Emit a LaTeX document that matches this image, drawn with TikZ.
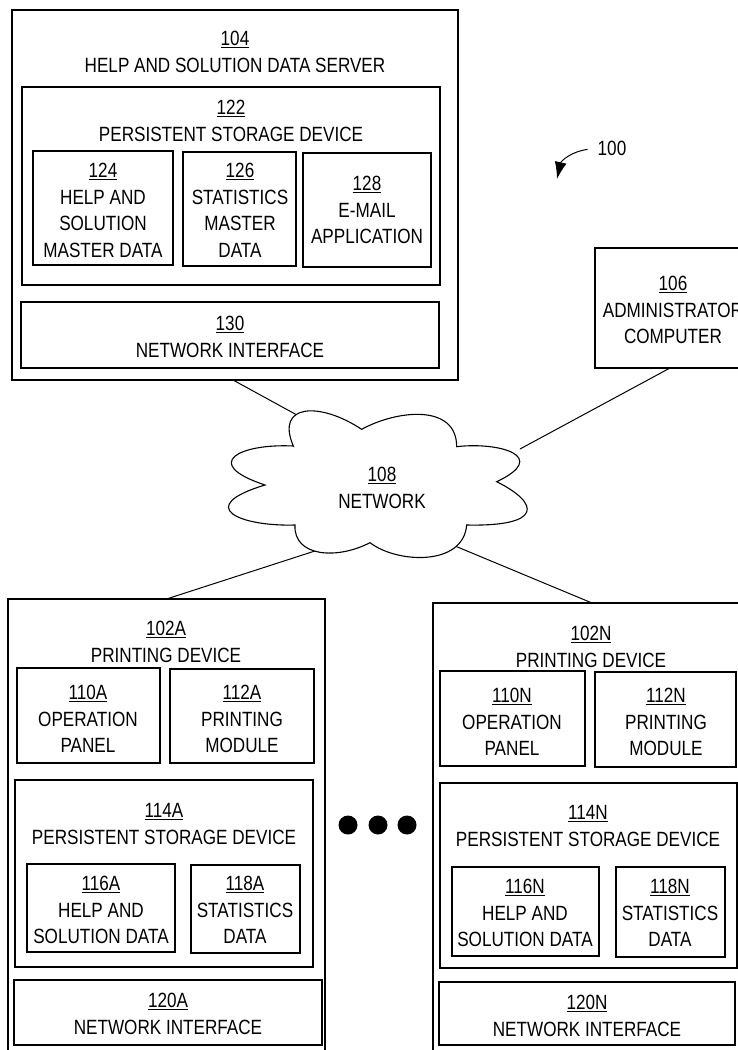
\documentclass[tikz,border=0pt]{standalone}
\usepackage{fontspec}
\setmainfont{Liberation Sans}[FakeStretch=0.83]
\usetikzlibrary{calc,arrows.meta}
\tikzset{
  boxst/.style={draw, line width=1.1bp, anchor=north west, inner sep=0pt, outer sep=0pt},
  lbl/.style={anchor=base, inner sep=0pt, font=\fontsize{20.7}{25}\selectfont},
  link/.style={line width=1bp},
  cloudst/.style={draw, line width=1.1bp, fill=white},
  dotst/.style={circle, fill, inner sep=0pt, minimum size=19bp},
}
\newcommand\mybox[5]{\node[boxst, minimum width={(#4-#2)*1bp}, minimum height={(#5-#3)*1bp}] (#1) at (#2,#3) {};}
\newcommand\mytext[4]{\foreach \myline [count=\i from 0] in {#4} {\node[lbl] (#1-\i) at ({#2},{#3+7.5+\i*26.5}) {\myline};}}
\begin{document}
\begin{tikzpicture}[x=1bp,y=-1bp]
\useasboundingbox (0,0) rectangle (738,1050);
\clip (0,0) rectangle (738,1050);
% boxes
\mybox{b104}{12}{10}{458}{380}
\mybox{b122}{22}{87}{440}{285}
\mybox{b124}{33}{151}{173}{265}
\mybox{b126}{183}{152}{296}{266}
\mybox{b128}{303}{153}{431}{267}
\mybox{b130}{21}{302}{439}{368}
\mybox{b106}{595}{248}{770}{368}
\mybox{b102A}{8}{599}{325}{1080}
\mybox{b110A}{17}{668}{160}{763}
\mybox{b112A}{170}{669}{314}{763}
\mybox{b114A}{15}{780}{313}{967}
\mybox{b116A}{27}{864}{175}{952}
\mybox{b118A}{191}{865}{300}{953}
\mybox{b120A}{14}{980}{322}{1045}
\mybox{b102N}{433}{603}{770}{1080}
\mybox{b110N}{440}{671}{585}{766}
\mybox{b112N}{595}{672}{736}{767}
\mybox{b114N}{440}{783}{737}{968}
\mybox{b116N}{452}{867}{599}{956}
\mybox{b118N}{616}{867}{725}{957}
\mybox{b120N}{439}{982}{735}{1045}
% cloud anchor coordinates
\begin{scope}[shift={(180,370)}, scale=0.33333]
  \coordinate (cl104) at (360,140);
  \coordinate (cl106) at (1020,237);
  \coordinate (cl102A) at (414,540);
  \coordinate (cl102N) at (818,525);
\end{scope}
% connectors
\draw[link] ($(b104.south west)!0.4955!(b104.south east)$) -- (cl104);
\draw[link] ($(b106.south west)!0.4286!(b106.south east)$) -- (cl106);
\draw[link] (b102A.north) -- (cl102A);
\draw[link] ($(b102N.north west)!0.4718!(b102N.north east)$) -- (cl102N);
% cloud
\begin{scope}[shift={(180,370)}, scale=0.33333]
\draw[cloudst] (340,228) .. controls (285,100) and (420,95) .. (545,178)
  .. controls (650,120) and (830,100) .. (830,230)
  .. controls (960,215) and (1110,260) .. (950,335)
  .. controls (1080,400) and (1090,470) .. (860,465)
  .. controls (850,590) and (650,580) .. (570,518)
  .. controls (470,570) and (340,560) .. (345,465)
  .. controls (180,470) and (40,410) .. (255,345)
  .. controls (60,280) and (180,220) .. cycle;
\end{scope}
% texts
\mytext{t104}{235}{38}{\underline{104},HELP AND SOLUTION DATA SERVER}
\mytext{t122}{231}{107}{\underline{122},PERSISTENT STORAGE DEVICE}
\mytext{t124}{103}{170}{\underline{124},HELP AND,SOLUTION,MASTER DATA}
\mytext{t126}{240}{170}{\underline{126},STATISTICS,MASTER,DATA}
\mytext{t128}{367}{183}{\underline{128},E-MAIL,APPLICATION}
\mytext{t130}{230}{323}{\underline{130},NETWORK INTERFACE}
\mytext{t106}{673}{283}{\underline{106},ADMINISTRATOR,COMPUTER}
\mytext{t108}{382}{474}{\underline{108},NETWORK}
\mytext{t102A}{166}{628}{\underline{102A},PRINTING DEVICE}
\mytext{t110A}{88}{692}{\underline{110A},OPERATION,PANEL}
\mytext{t112A}{242}{692}{\underline{112A},PRINTING,MODULE}
\mytext{t114A}{164}{810}{\underline{114A},PERSISTENT STORAGE DEVICE}
\mytext{t116A}{101}{883}{\underline{116A},HELP AND,SOLUTION DATA}
\mytext{t118A}{245}{883}{\underline{118A},STATISTICS,DATA}
\mytext{t120A}{168}{1000}{\underline{120A},NETWORK INTERFACE}
\mytext{t102N}{591}{633}{\underline{102N},PRINTING DEVICE}
\mytext{t110N}{512}{695}{\underline{110N},OPERATION,PANEL}
\mytext{t112N}{666}{695}{\underline{112N},PRINTING,MODULE}
\mytext{t114N}{588}{812}{\underline{114N},PERSISTENT STORAGE DEVICE}
\mytext{t116N}{525}{886}{\underline{116N},HELP AND,SOLUTION DATA}
\mytext{t118N}{670}{886}{\underline{118N},STATISTICS,DATA}
\mytext{t120N}{587}{1002}{\underline{120N},NETWORK INTERFACE}
% reference numeral 100
\node[lbl] (n100) at (612,155.5) {100};
\coordinate (a100) at (557,179);
\draw[link, -{Latex[length=17bp,width=12bp]}] ($(n100.west)+(-10,1)$) .. controls +(-16,2) and +(4,-18) .. (a100);
% ellipsis dots
\node[dotst] (d1) at (348,825) {};
\node[dotst] (d2) at (378,825) {};
\node[dotst] (d3) at (407,825) {};
\end{tikzpicture}
\end{document}
